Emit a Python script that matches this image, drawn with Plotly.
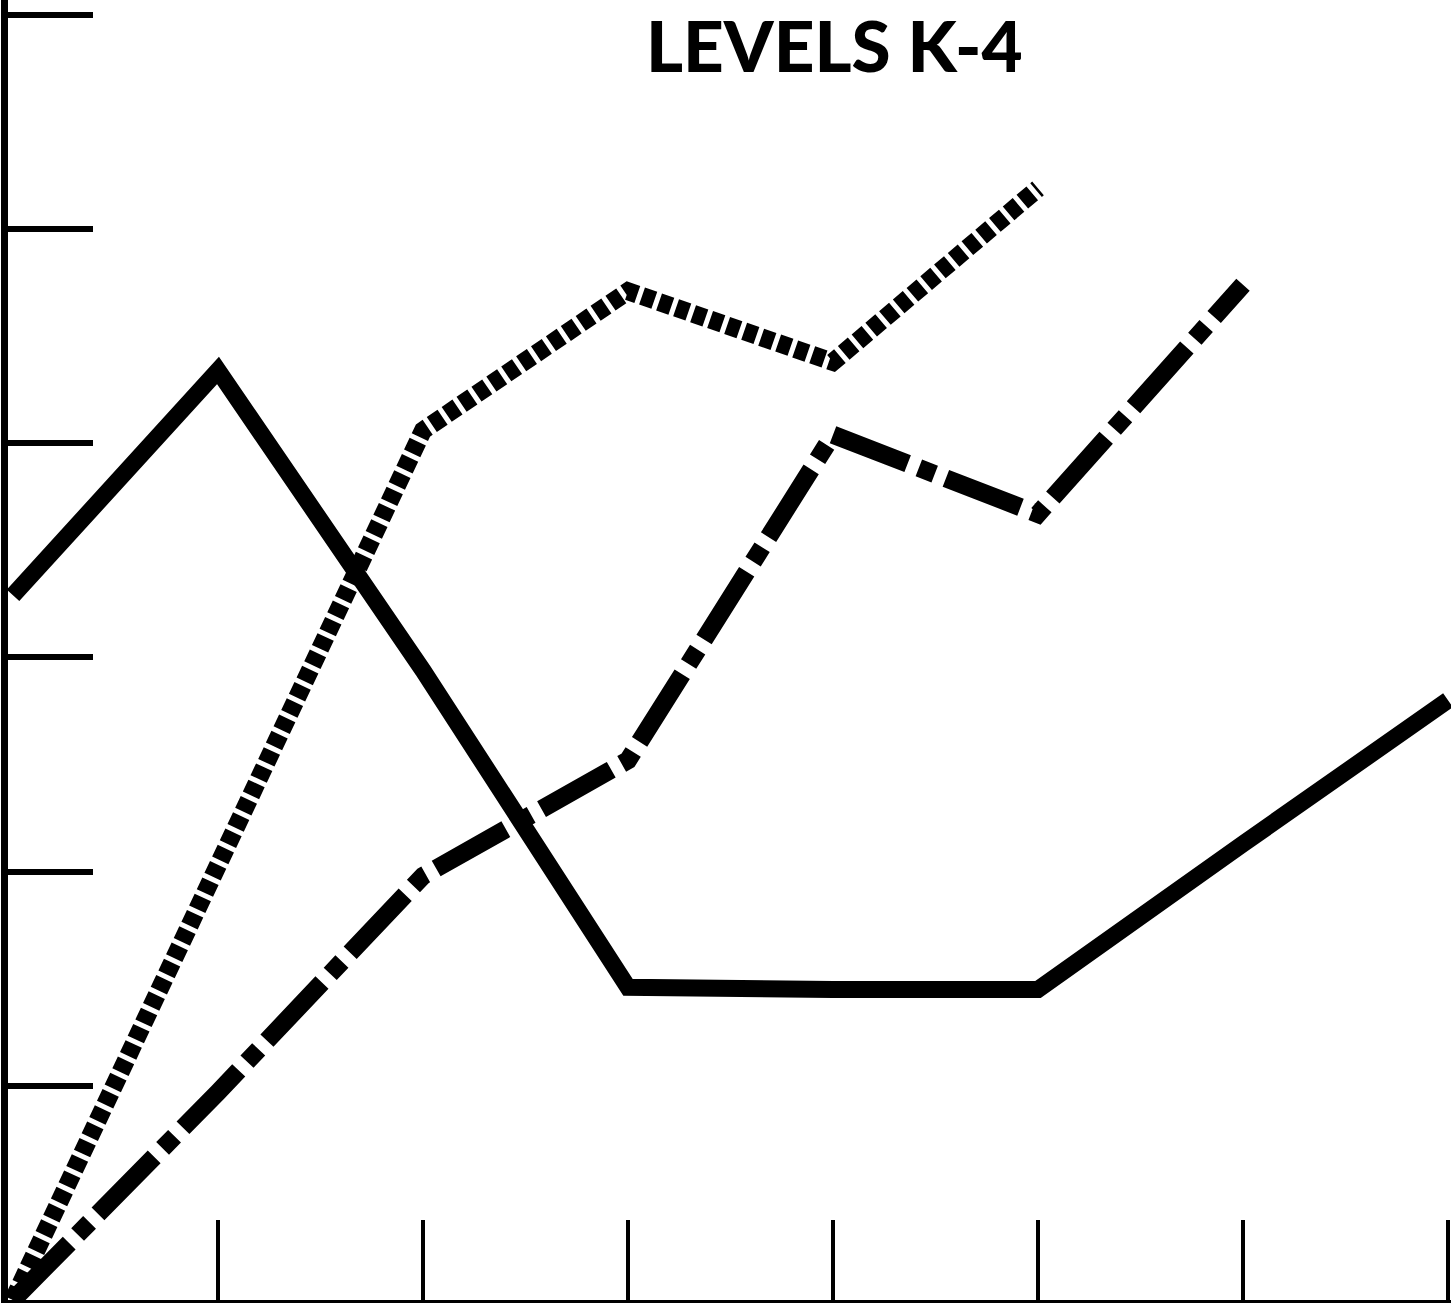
import plotly.graph_objects as go

# Data
periods = [0, 1, 2, 3, 4, 5, 6, 7]
solid_vals = [3.29, 4.34, 2.94, 1.46, 1.45, 1.45, 2.13, 2.80]
dotted_x = [0, 1, 2, 3, 4, 5]
dotted_vals = [0.0, 2.05, 4.06, 4.71, 4.38, 5.19]
dashdot_x = [0, 1, 2, 3, 4, 5, 6]
dashdot_vals = [0.0, 0.97, 1.98, 2.52, 4.04, 3.67, 4.74]
title_text = "LEVELS K-4"
x_tick_vals = [1, 2, 3, 4, 5, 6, 7]
y_tick_vals = [1, 2, 3, 4, 5, 6]

fig = go.Figure()
fig.add_trace(go.Scatter(x=periods, y=solid_vals, mode="lines",
                         line=dict(color="black", width=17), showlegend=False,
                         cliponaxis=False))
fig.add_trace(go.Scatter(x=dotted_x, y=dotted_vals, mode="lines",
                         line=dict(color="black", width=18, dash="13px,5px"),
                         showlegend=False, cliponaxis=False))
fig.add_trace(go.Scatter(x=dashdot_x, y=dashdot_vals, mode="lines",
                         line=dict(color="black", width=18, dash="80px,12px,17px,12px"),
                         showlegend=False, cliponaxis=False))

fig.add_annotation(text=title_text, xref="paper", yref="paper",
                   x=0.5726, y=0.9655, xanchor="center", yanchor="middle",
                   showarrow=False,
                   font=dict(family="Lato", size=71, color="black", weight=900))

fig.update_layout(
    width=1451, height=1303,
    margin=dict(l=8, r=0, t=0, b=3),
    paper_bgcolor="white", plot_bgcolor="white",
    xaxis=dict(range=[-5/205, 1438/205], showgrid=False, zeroline=False,
               showline=True, linecolor="black", linewidth=3,
               tickmode="array", tickvals=x_tick_vals, ticktext=[""] * len(x_tick_vals),
               ticks="inside", ticklen=80, tickwidth=4, tickcolor="black"),
    yaxis=dict(range=[0, 1300/214.17], showgrid=False, zeroline=False,
               showline=True, linecolor="black", linewidth=7,
               tickmode="array", tickvals=y_tick_vals, ticktext=[""] * len(y_tick_vals),
               ticks="inside", ticklen=85, tickwidth=6, tickcolor="black"),
)

fig.write_html("out.html",
               config={"displayModeBar": False, "staticPlot": True},
               post_script="document.body.style.margin='0';document.body.style.overflow='hidden';")
